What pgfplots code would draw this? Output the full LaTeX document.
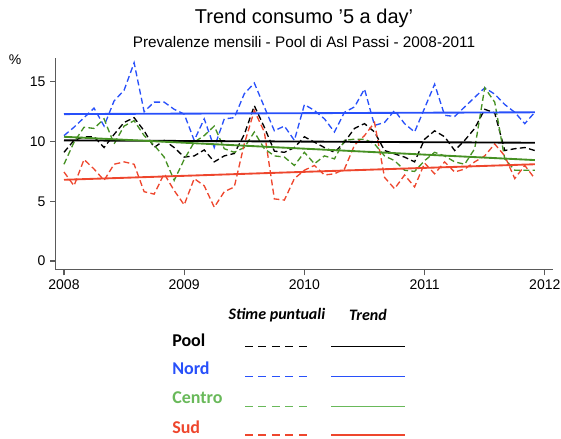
\documentclass[border=0pt]{standalone}
\usepackage{pgfplots}
\pgfplotsset{compat=1.18}
\usepackage{pgfplotstable}
\usepackage{fontspec}
\setmainfont{Liberation Sans}
\newfontfamily\legfont{Carlito}

\definecolor{cpool}{RGB}{0,0,0}
\definecolor{cnord}{RGB}{40,80,250}
\definecolor{ccentro}{RGB}{70,145,35}
\definecolor{csud}{RGB}{238,70,45}
\definecolor{tcentro}{RGB}{105,185,90}
\definecolor{axisgray}{RGB}{90,90,90}

% monthly estimates, month 0 = Jan 2008
\pgfplotstableread{
m  pool  nord   centro  sud
0  9.1   10.5   8.1     7.45
1  10.1  11.2   9.95    6.3
2  10.4  12.0   11.2    8.5
3  10.4  12.8   11.1    7.7
4  9.5   11.3   11.9    6.75
5  10.6  13.4   9.8     8.1
6  11.6  14.3   11.3    8.3
7  12.0  16.6   11.75   8.1
8  10.9  12.5   10.5    5.8
9  9.5   13.3   9.7     5.6
10 10.1  13.3   8.7     7.3
11 9.5   12.7   6.75    5.9
12 8.7   12.3   8.5     4.7
13 8.8   10.1   9.95    6.9
14 9.3   11.9   10.5    6.3
15 8.3   9.5    11.3    4.5
16 8.8   11.9   9.4     5.8
17 9.0   12.0   9.1     6.2
18 10.6  14.0   9.5     9.8
19 13.0  14.9   10.8    12.6
20 11.2  12.9   9.4     10.8
21 9.2   10.9   8.8     5.2
22 9.1   11.3   8.7     5.1
23 9.5   10.1   8.0     6.9
24 10.4  13.1   9.1     7.6
25 9.95  12.6   8.14    8.0
26 9.5   11.9   8.8     7.2
27 9.1   10.8   8.55    7.3
28 9.95  12.45  10.1    7.7
29 11.1  12.9   10.2    9.7
30 11.5  14.4   10.2    10.5
31 10.8  11.35  9.8     11.6
32 9.25  11.6   8.8     7.0
33 8.97  12.6   8.4     6.05
34 8.7   11.5   7.6     7.2
35 8.3   10.8   7.5     6.2
36 10.2  12.8   8.4     8.2
37 10.9  14.8   9.1     7.3
38 10.4  12.2   8.8     8.3
39 9.25  12.1   8.3     7.45
40 10.1  12.9   8.1     7.7
41 11.1  13.7   9.4     8.3
42 12.7  14.5   14.5    8.8
43 12.4  13.97  13.3    9.8
44 9.25  13.1   8.55    8.8
45 9.4   12.45  7.6     6.9
46 9.5   11.5   7.6     8.0
47 9.25  12.45  7.6     6.9
}\mensili

% linear trends
\pgfplotstableread{
m  pool  nord   centro  sud
0  10.1  12.3   10.4    6.8
47 9.9   12.45  8.45    8.1
}\trend

\begin{document}
\begin{tikzpicture}[x=0.75pt,y=0.75pt]
\path[use as bounding box] (0,0) rectangle (561,439);

\begin{axis}[
  at={(48pt,133.5pt)}, anchor=origin,
  scale only axis, width=373pt, height=159pt,
  xmin=-0.85, xmax=48.8, ymin=-0.75, ymax=17,
  axis x line*=bottom, axis y line*=left,
  axis line style={axisgray, line width=0.8pt, -},
  xtick={0,12,24,36,48}, xticklabels={2008,2009,2010,2011,2012},
  ytick={0,5,10,15},
  tick style={axisgray, line width=0.8pt},
  tick align=outside, major tick length=4pt,
  ticklabel style={font=\fontsize{10.5}{12}\selectfont},
  /pgf/number format/assume math mode=true,
  clip=false,
  every axis plot/.append style={line width=1pt, no markers},
  dashstyle/.style={dash pattern=on 4.5pt off 2.5pt},
]
\addplot[cnord, dashstyle] table[x=m, y=nord] {\mensili};
\addplot[cpool, dashstyle] table[x=m, y=pool] {\mensili};
\addplot[ccentro, dashstyle] table[x=m, y=centro] {\mensili};
\addplot[csud, dashstyle] table[x=m, y=sud] {\mensili};
\addplot[cnord, line width=1.4pt] table[x=m, y=nord] {\trend};
\addplot[cpool, line width=1.4pt] table[x=m, y=pool] {\trend};
\addplot[ccentro, line width=1.4pt] table[x=m, y=centro] {\trend};
\addplot[csud, line width=1.4pt] table[x=m, y=sud] {\trend};
\end{axis}

% titles
\node[font=\fontsize{15}{17}\selectfont] at (304,421) {Trend consumo '5 a day'};
\node[font=\fontsize{11.5}{13}\selectfont] at (304,397) {Prevalenze mensili - Pool di Asl Passi - 2008-2011};
\node[font=\fontsize{10.5}{12}\selectfont] at (15,379) {\%};

% legend
\node[font=\legfont\bfseries\itshape\fontsize{12}{14}\selectfont] at (277,124) {Stime puntuali};
\node[font=\legfont\bfseries\itshape\fontsize{12}{14}\selectfont] at (368,124) {Trend};
\node[anchor=west, inner sep=0pt, text=cpool, font=\legfont\bfseries\fontsize{13.5}{15}\selectfont] at (172,99) {Pool};
\node[anchor=west, inner sep=0pt, text=cnord, font=\legfont\bfseries\fontsize{13.5}{15}\selectfont] at (172,71) {Nord};
\node[anchor=west, inner sep=0pt, text=tcentro, font=\legfont\bfseries\fontsize{13.5}{15}\selectfont] at (172,41) {Centro};
\node[anchor=west, inner sep=0pt, text=csud, font=\legfont\bfseries\fontsize{13.5}{15}\selectfont] at (172,12) {Sud};
\foreach \yy/\cc in {92.5/cpool, 62.5/cnord, 32.5/tcentro, 4/csud}{
  \draw[\cc, line width=1pt, dash pattern=on 6pt off 4.1pt] (245,\yy) -- (309,\yy);
  \draw[\cc, line width=1.1pt] (331,\yy) -- (405,\yy);
}
\end{tikzpicture}
\end{document}
